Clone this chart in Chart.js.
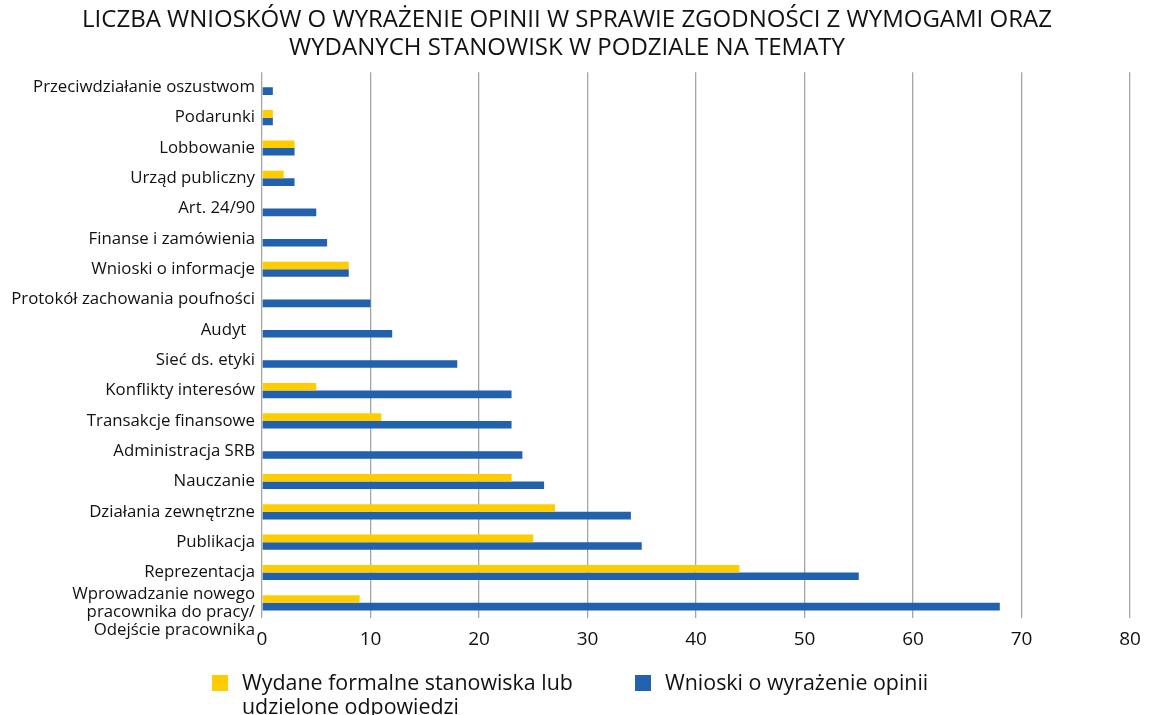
<!DOCTYPE html>
<html lang="pl">
<head>
<meta charset="utf-8">
<title>Liczba wniosków</title>
<script src="https://cdn.jsdelivr.net/npm/chart.js@4"></script>
<style>
  html, body { margin: 0; padding: 0; background: #fff; }
  .wrap { position: relative; width: 1149px; height: 715px; overflow: hidden; }
  #chart { display: block; }
  .legend { position: absolute; top: 670px; left: 0; width: 1149px; font-family: "Open Sans", sans-serif; font-size: 21.4px; line-height: 24px; color: #111; }
  .legend__item { position: absolute; top: 0; display: flex; }
  .legend__box { width: 16px; height: 16px; margin-top: 5px; margin-right: 14px; flex: none; }
</style>
</head>
<body>
<div class="wrap">
  <canvas id="chart" width="1149" height="715"></canvas>
  <div class="legend"></div>
</div>
<script>
const categories = [
  "Przeciwdziałanie oszustwom",
  "Podarunki",
  "Lobbowanie",
  "Urząd publiczny",
  "Art. 24/90",
  "Finanse i zamówienia",
  "Wnioski o informacje",
  "Protokół zachowania poufności",
  "Audyt  ",
  "Sieć ds. etyki",
  "Konflikty interesów",
  "Transakcje finansowe",
  "Administracja SRB",
  "Nauczanie",
  "Działania zewnętrzne",
  "Publikacja",
  "Reprezentacja",
  ["Wprowadzanie nowego", "pracownika do pracy/", "Odejście pracownika"],
];

const stanowiska = [0, 1, 3, 2, 0, 0, 8, 0, 0, 0, 5, 11, 0, 23, 27, 25, 44, 9];
const wnioski = [1, 1, 3, 3, 5, 6, 8, 10, 12, 18, 23, 23, 24, 26, 34, 35, 55, 68];

const xTicks = [0, 10, 20, 30, 40, 50, 60, 70, 80];

const seriesNames = [
  ["Wydane formalne stanowiska lub", "udzielone odpowiedzi"],
  ["Wnioski o wyrażenie opinii"],
];
const colors = ["#ffcc00", "#2261ad"];

const ctx = document.querySelector("#chart");

const myChart = new Chart(ctx, {
  type: "bar",
  data: {
    labels: categories,
    datasets: [
      {
        label: seriesNames[0].join(" "),
        data: stanowiska,
        backgroundColor: colors[0],
        barPercentage: 1,
        categoryPercentage: 0.5,
      },
      {
        label: seriesNames[1].join(" "),
        data: wnioski,
        backgroundColor: colors[1],
        barPercentage: 1,
        categoryPercentage: 0.5,
      },
    ],
  },
  options: {
    indexAxis: "y",
    responsive: false,
    animation: false,
    layout: { padding: { left: 0, right: 15, top: 0, bottom: 0 } },
    plugins: {
      legend: { display: false },
      tooltip: { enabled: false },
      title: {
        display: true,
        text: [
          "LICZBA WNIOSKÓW O WYRAŻENIE OPINII W SPRAWIE ZGODNOŚCI Z WYMOGAMI ORAZ",
          "WYDANYCH STANOWISK W PODZIALE NA TEMATY",
        ],
        color: "#111",
        font: { family: "'Open Sans', sans-serif", size: 24, weight: "normal", lineHeight: 1.17 },
        padding: { top: 6, bottom: 10 },
      },
    },
    scales: {
      x: {
        min: 0,
        max: 80,
        afterBuildTicks: (scale) => {
          scale.ticks = xTicks.map((v) => ({ value: v }));
        },
        afterFit: (scale) => {
          scale.height = 97;
          scale.paddingLeft = 0;
          scale.paddingRight = 19;
        },
        grid: { color: "#a6a6a6", lineWidth: 1.3, drawTicks: false },
        border: { display: false },
        ticks: {
          color: "#111",
          padding: 10,
          font: { family: "'Open Sans', sans-serif", size: 19 },
        },
      },
      y: {
        afterFit: (scale) => {
          scale.width = 262;
        },
        grid: { display: false },
        border: { display: false },
        ticks: {
          autoSkip: false,
          color: "#111",
          padding: -1,
          font: { family: "'Open Sans', sans-serif", size: 16.8, lineHeight: 1.07 },
          // the long wrapped label sits a little below its bars
          callback: (v, i) => Array.isArray(categories[i]) ? ["", ...categories[i]] : categories[i],
        },
      },
    },
  },
});

// LEGEND
const legend = document.querySelector(".legend");
const legendLeft = [212, 635];
seriesNames.forEach((name, i) => {
  const item = document.createElement("div");
  item.className = "legend__item";
  item.style.left = legendLeft[i] + "px";
  item.innerHTML =
    '<span class="legend__box" style="background:' + colors[i] + '"></span>' +
    "<span>" + name.join("<br>") + "</span>";
  legend.appendChild(item);
});
</script>
</body>
</html>
